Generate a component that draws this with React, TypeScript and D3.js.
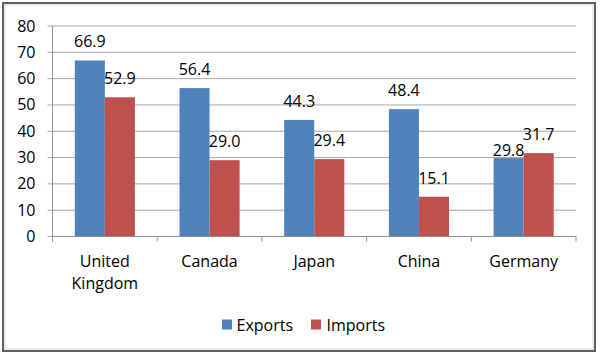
import React from "react";
import * as d3 from "d3";

const categories: string[][] = [["United", "Kingdom"], ["Canada"], ["Japan"], ["China"], ["Germany"]];
const categoryKeys = ["United Kingdom", "Canada", "Japan", "China", "Germany"];
const exportsValues = [66.9, 56.4, 44.3, 48.4, 29.8];
const importsValues = [52.9, 29.0, 29.4, 15.1, 31.7];
const seriesNames = ["Exports", "Imports"];
const seriesColors = ["#4F81BD", "#C0504D"];
const yTicks = [0, 10, 20, 30, 40, 50, 60, 70, 80];

const W = 600;
const H = 357;
const FONT = "'Open Sans', 'DejaVu Sans', sans-serif";

export default function App() {
  const left = 52.5;
  const right = 576;
  const top = 26;
  const bottom = 236.5;

  const x = d3.scaleBand<string>().domain(categoryKeys).range([left, right]).padding(0);
  const bw = x.bandwidth();
  const inner = d3
    .scaleBand<string>()
    .domain(seriesNames)
    .range([bw * 0.213, bw * 0.787])
    .padding(0);
  const y = d3.scaleLinear().domain([0, 80]).range([bottom, top]);

  const series = [exportsValues, importsValues];

  // label layout: default above bar; if overlapping neighbour label, drop to bar top
  const charW = 8.1;
  const labels: { x: number; y: number; text: string }[] = [];
  categoryKeys.forEach((c, ci) => {
    const items = series.map((vals, si) => {
      const cx = (x(c) as number) + (inner(seriesNames[si]) as number) + inner.bandwidth() / 2;
      const text = vals[ci].toFixed(1);
      const w = text.length * charW;
      return { cx, by: y(vals[ci]), text, w, si };
    });
    const ys = items.map((it) => it.by - 13);
    const a = items[0];
    const b = items[1];
    const hOverlap = a.cx + a.w / 2 > b.cx - b.w / 2;
    const vOverlap = Math.abs(ys[0] - ys[1]) < 14;
    if (hOverlap && vOverlap) {
      if (a.by > b.by) ys[0] = a.by - 2;
      else ys[1] = b.by - 2;
    }
    items.forEach((it, i) => labels.push({ x: it.cx, y: ys[i], text: it.text }));
  });

  const boundaries = [...categoryKeys.map((c) => x(c) as number), right];

  return (
    <svg width={W} height={H} style={{ position: "absolute", left: 0, top: 0, background: "#fff" }} fontFamily={FONT}>
      <rect x={0} y={0} width={W} height={H} fill="#fff" />
      {/* frame */}
      <rect x={3} y={3} width={592} height={348} fill="none" stroke="#5f5f5f" strokeWidth={2} />
      <rect x={5} y={5} width={588} height={344} fill="none" stroke="#d9d9d9" strokeWidth={1} />

      {/* gridlines */}
      {yTicks.map((t) => (
        <line key={"g" + t} x1={left - 5} x2={right} y1={y(t)} y2={y(t)} stroke="#a6a6a6" strokeWidth={1} />
      ))}

      {/* y tick labels */}
      {yTicks.map((t) => (
        <text key={"yl" + t} x={35.5} y={y(t) + 5.5} textAnchor="end" fontSize={16} fill="#000">
          {t}
        </text>
      ))}

      {/* bars */}
      {series.map((vals, si) =>
        categoryKeys.map((c, ci) => (
          <rect
            key={"b" + si + "-" + ci}
            x={(x(c) as number) + (inner(seriesNames[si]) as number)}
            y={y(vals[ci])}
            width={inner.bandwidth()}
            height={bottom - y(vals[ci])}
            fill={seriesColors[si]}
          />
        ))
      )}

      {/* axes */}
      <line x1={left} x2={left} y1={top} y2={bottom + 5} stroke="#909090" strokeWidth={1} />
      <line x1={left} x2={right} y1={bottom} y2={bottom} stroke="#909090" strokeWidth={1} />
      {boundaries.map((bx, i) => (
        <line key={"xt" + i} x1={bx} x2={bx} y1={bottom} y2={bottom + 5} stroke="#909090" strokeWidth={1} />
      ))}

      {/* data labels */}
      {labels.map((l, i) => (
        <text key={"dl" + i} x={l.x} y={l.y} textAnchor="middle" fontSize={16} fill="#000">
          {l.text}
        </text>
      ))}

      {/* category labels */}
      {categoryKeys.map((c, ci) => (
        <text key={"cl" + ci} x={(x(c) as number) + bw / 2} y={266.5} textAnchor="middle" fontSize={16} fill="#000">
          {categories[ci].map((line, li) => (
            <tspan key={li} x={(x(c) as number) + bw / 2} dy={li === 0 ? 0 : 22.5}>
              {line}
            </tspan>
          ))}
        </text>
      ))}

      {/* legend */}
      <rect x={222} y={319.5} width={10} height={10} fill={seriesColors[0]} />
      <text x={236.5} y={331} fontSize={16} fill="#000">
        {seriesNames[0]}
      </text>
      <rect x={311} y={319.5} width={10} height={10} fill={seriesColors[1]} />
      <text x={326.5} y={331} fontSize={16} fill="#000">
        {seriesNames[1]}
      </text>
    </svg>
  );
}
